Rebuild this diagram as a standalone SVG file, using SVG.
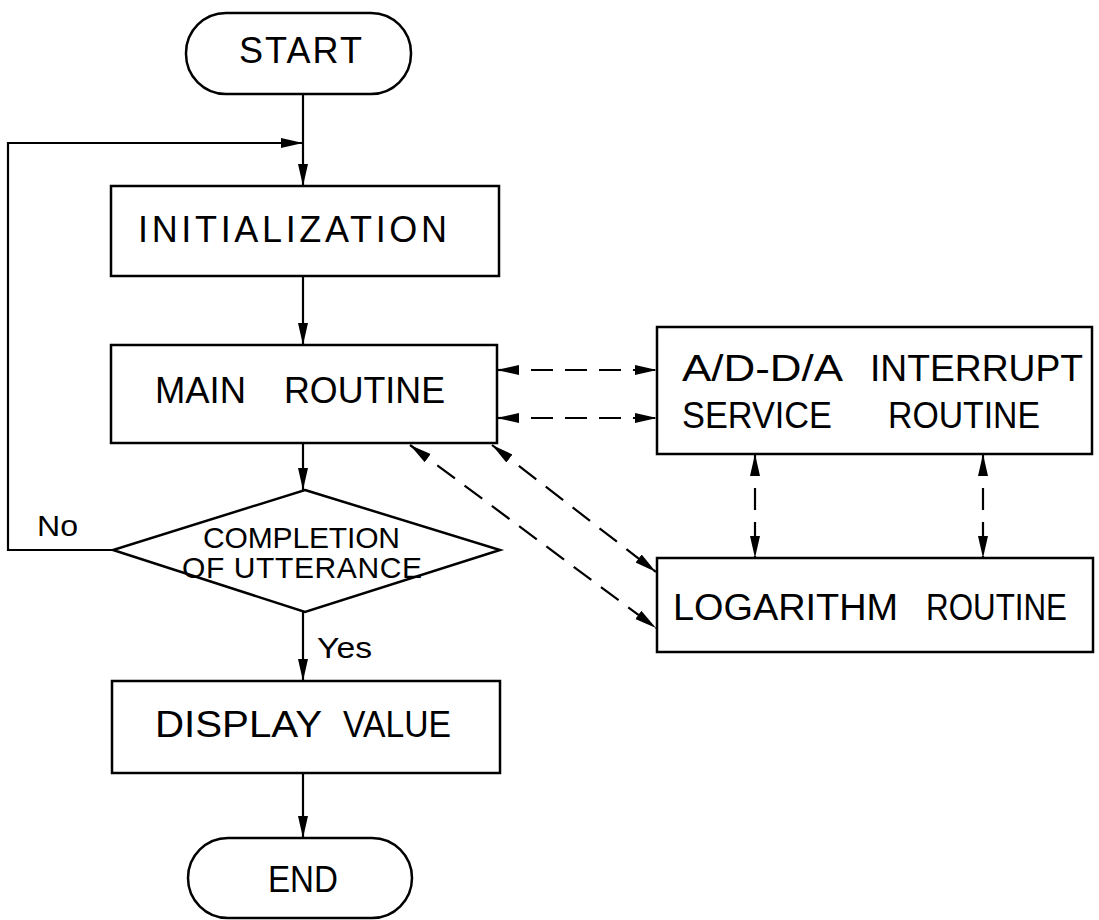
<svg xmlns="http://www.w3.org/2000/svg" width="1099" height="920" viewBox="0 0 1099 920">
  <style>
    .box { fill: #fff; stroke: #000; stroke-width: 2.5; }
    .lbl { font-family: "Liberation Sans", "DejaVu Sans", sans-serif; font-size: 36px; fill: #000; }
    .sm { font-size: 30px; }
    .flow { fill: none; stroke: #000; stroke-width: 2.2; }
    .dash { fill: none; stroke: #000; stroke-width: 2.2; stroke-dasharray: 22 12; }
  </style>
  <defs>
    <marker id="head" markerUnits="userSpaceOnUse" markerWidth="24" markerHeight="12" refX="22" refY="6" orient="auto-start-reverse">
      <path d="M0,1 L22,6 L0,11 z" fill="#000"/>
    </marker>
  </defs>

  <!-- connectors -->
  <g id="connectors">
    <line class="flow" x1="303" y1="94" x2="303" y2="186" marker-end="url(#head)"/>
    <polyline class="flow" points="113,550 8,550 8,143 303,143" marker-end="url(#head)"/>
    <line class="flow" x1="303" y1="276" x2="303" y2="345" marker-end="url(#head)"/>
    <line class="flow" x1="303" y1="443" x2="303" y2="490" marker-end="url(#head)"/>
    <line class="flow" x1="303" y1="612" x2="303" y2="681" marker-end="url(#head)"/>
    <line class="flow" x1="303" y1="773" x2="303" y2="838" marker-end="url(#head)"/>
    <!-- bidirectional data exchange -->
    <line class="dash" x1="497" y1="370" x2="657" y2="370" marker-start="url(#head)" marker-end="url(#head)"/>
    <line class="dash" x1="497" y1="418" x2="657" y2="418" marker-start="url(#head)" marker-end="url(#head)"/>
    <line class="dash" x1="755" y1="454" x2="755" y2="558" marker-start="url(#head)" marker-end="url(#head)"/>
    <line class="dash" x1="983" y1="454" x2="983" y2="558" marker-start="url(#head)" marker-end="url(#head)"/>
    <line class="dash" x1="492" y1="445" x2="656" y2="572" marker-start="url(#head)" marker-end="url(#head)"/>
    <line class="dash" x1="410" y1="445" x2="656" y2="628" marker-start="url(#head)" marker-end="url(#head)"/>
    <text class="lbl sm" x="37" y="536" textLength="41" lengthAdjust="spacingAndGlyphs">No</text>
    <text class="lbl sm" x="317" y="658" textLength="55" lengthAdjust="spacingAndGlyphs">Yes</text>
  </g>

  <g id="start">
    <rect class="box" x="186" y="13" width="225" height="81" rx="40" ry="40"/>
    <text class="lbl" x="239" y="63" textLength="123" lengthAdjust="spacing">START</text>
  </g>

  <g id="initialization">
    <rect class="box" x="111" y="186" width="388" height="90"/>
    <text class="lbl" x="138" y="242" textLength="309" lengthAdjust="spacing">INITIALIZATION</text>
  </g>

  <g id="main-routine">
    <rect class="box" x="111" y="345" width="386" height="98"/>
    <text class="lbl" x="155" y="403" textLength="91" lengthAdjust="spacingAndGlyphs">MAIN</text>
    <text class="lbl" x="284" y="403" textLength="161" lengthAdjust="spacingAndGlyphs">ROUTINE</text>
  </g>

  <g id="completion">
    <polygon class="box" points="305,490 500,550 305,612 113,550"/>
    <text class="lbl sm" x="203" y="548" textLength="197" lengthAdjust="spacing">COMPLETION</text>
    <text class="lbl sm" x="182" y="578" textLength="240" lengthAdjust="spacing">OF UTTERANCE</text>
  </g>

  <g id="display-value">
    <rect class="box" x="112" y="681" width="388" height="92"/>
    <text class="lbl" x="155" y="737" textLength="167" lengthAdjust="spacingAndGlyphs">DISPLAY</text>
    <text class="lbl" x="343" y="737" textLength="108" lengthAdjust="spacingAndGlyphs">VALUE</text>
  </g>

  <g id="end">
    <rect class="box" x="188" y="838" width="224" height="80" rx="40" ry="40"/>
    <text class="lbl" x="268" y="892" textLength="70" lengthAdjust="spacingAndGlyphs">END</text>
  </g>

  <g id="interrupt-routine">
    <rect class="box" x="657" y="327" width="435" height="127"/>
    <text class="lbl" x="682" y="381" textLength="161" lengthAdjust="spacingAndGlyphs">A/D-D/A</text>
    <text class="lbl" x="870" y="381" textLength="213" lengthAdjust="spacingAndGlyphs">INTERRUPT</text>
    <text class="lbl" x="682" y="428" textLength="150" lengthAdjust="spacingAndGlyphs">SERVICE</text>
    <text class="lbl" x="888" y="428" textLength="152" lengthAdjust="spacingAndGlyphs">ROUTINE</text>
  </g>

  <g id="logarithm-routine">
    <rect class="box" x="657" y="558" width="436" height="94"/>
    <text class="lbl" x="673" y="620" textLength="225" lengthAdjust="spacingAndGlyphs">LOGARITHM</text>
    <text class="lbl" x="926" y="620" textLength="141" lengthAdjust="spacingAndGlyphs">ROUTINE</text>
  </g>
</svg>
